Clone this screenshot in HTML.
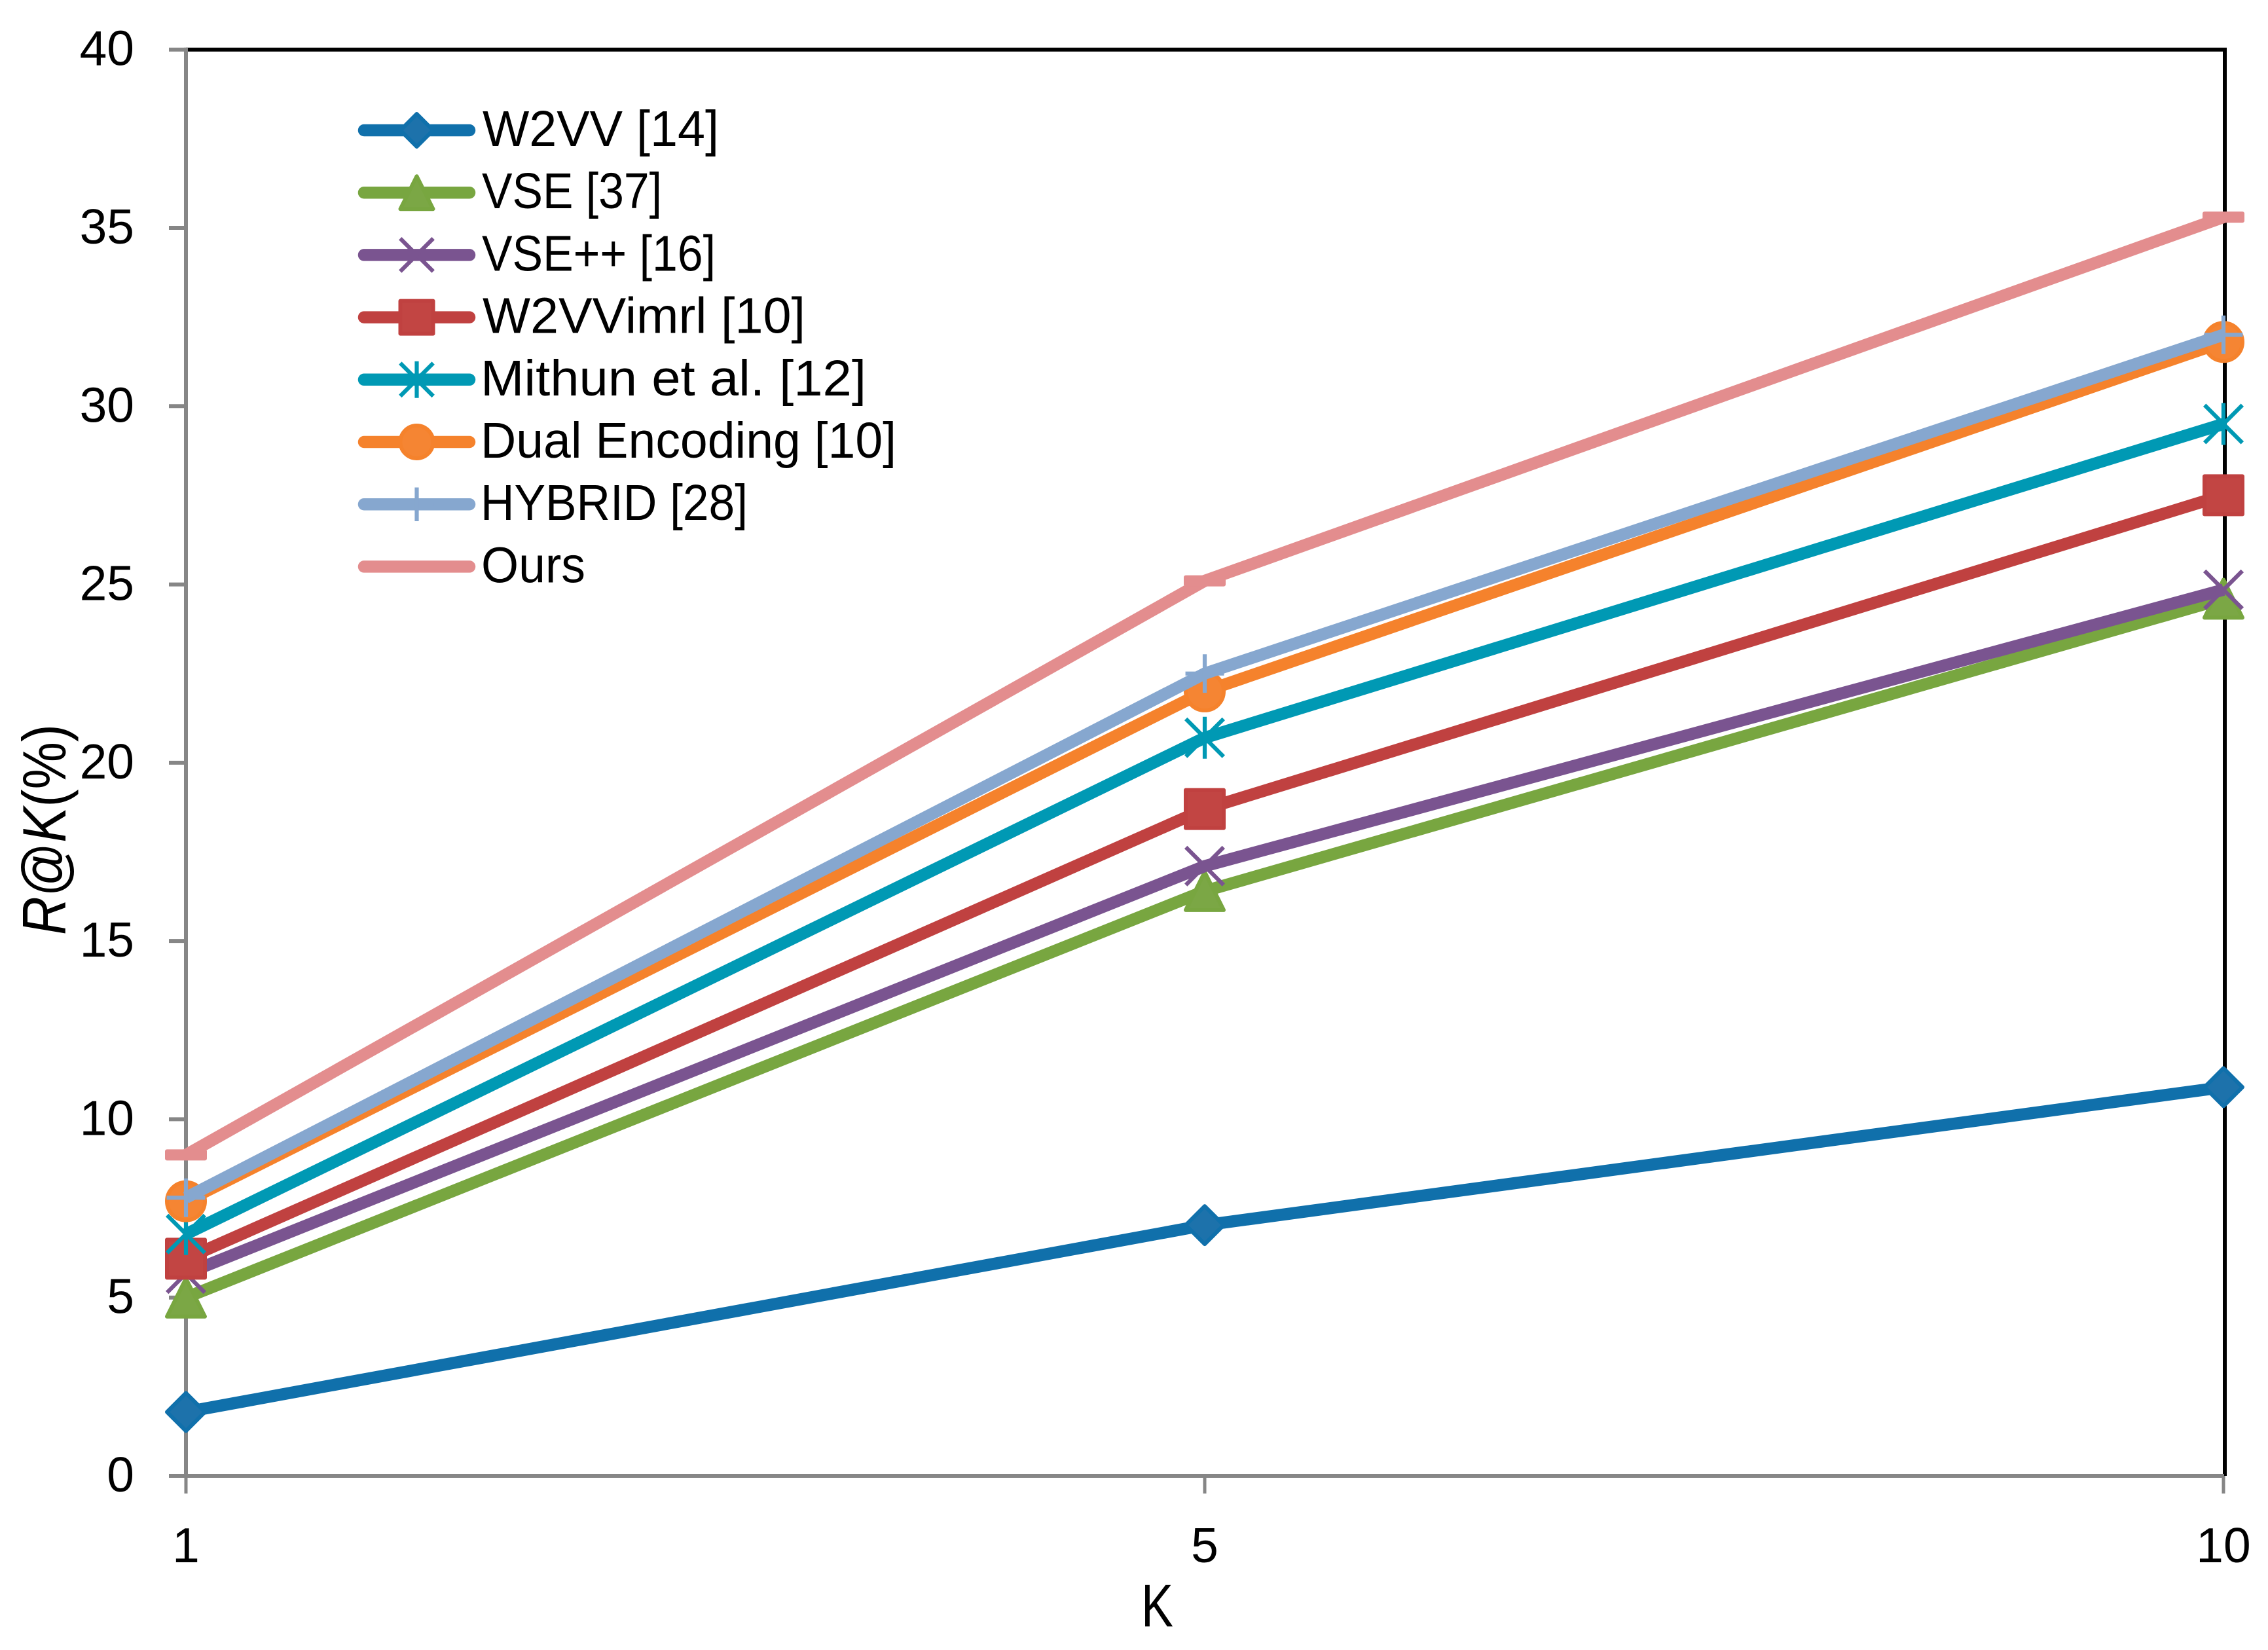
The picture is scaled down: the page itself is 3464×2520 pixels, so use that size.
<!DOCTYPE html>
<html lang="en">
<head>
<meta charset="utf-8">
<title>R@K chart</title>
<style>
html,body{margin:0;padding:0;background:#fff;width:3464px;height:2520px;overflow:hidden}
svg{display:block}
text{font-family:"Liberation Sans",sans-serif;fill:#000}
</style>
</head>
<body>
<svg id="chart" xmlns="http://www.w3.org/2000/svg" width="3464" height="2520" viewBox="0 0 3464 2520">
<rect x="0" y="0" width="3464" height="2520" fill="#fff"/>
<g id="frame"></g>
<g id="series"></g>
<g id="legend"></g>
<g id="labels"></g>
<text x="1743" y="2484" font-size="92" textLength="49" lengthAdjust="spacingAndGlyphs">K</text>
<text transform="translate(100,1428) rotate(-90)" font-size="94" textLength="322" lengthAdjust="spacingAndGlyphs"><tspan font-style="italic">R</tspan>@<tspan font-style="italic">K</tspan>(%)</text>
</svg>
<script>
const categories = ["1", "5", "10"];
const yTicks = [0, 5, 10, 15, 20, 25, 30, 35, 40];
const w2vvValues = [1.79, 7.03, 10.9];
const vseValues = [5.0, 16.4, 24.6];
const vsePlusValues = [5.67, 17.1, 24.85];
const w2vvimrlValues = [6.09, 18.7, 27.5];
const mithunValues = [6.78, 20.7, 29.5];
const dualValues = [7.7, 22.0, 31.8];
const hybridValues = [7.8, 22.5, 32.0];
const oursValues = [9.0, 25.1, 35.3];
const seriesNames = ["W2VV [14]", "VSE [37]", "VSE++ [16]", "W2VVimrl [10]", "Mithun et al. [12]", "Dual Encoding [10]", "HYBRID [28]", "Ours"];
const seriesValues = [w2vvValues, vseValues, vsePlusValues, w2vvimrlValues, mithunValues, dualValues, hybridValues, oursValues];
const seriesColors = ["#1070AB", "#78A640", "#7A5490", "#C04140", "#0099B4", "#F5822C", "#86A7CF", "#E38D8E"];
const markerFills = ["#1D72AB", "#7BA745", "#7A5490", "#C24543", "#0099B4", "#F58533", "#86A7CF", "#E38D8E"];
const seriesMarkers = ["diamond", "triangle", "cross", "square", "star", "circle", "plus", "dash"];
const legendWidths = [361, 275, 357, 493, 589, 635, 408, 159];
const legendStarts = [737, 736, 736, 737, 734, 734, 734, 735];

const NS = "http://www.w3.org/2000/svg";
const PLOT = {left: 284, right: 3396, top: 75.7, bottom: 2254};
const AXIS_GREY = "#868686";
const LINE_WIDTH = 18.5;

function xScale(i) {
  return PLOT.left + i * (PLOT.right - PLOT.left) / (categories.length - 1);
}
function yScale(v) {
  return PLOT.bottom - v * (PLOT.bottom - PLOT.top) / 40;
}
function make(tag, attrs, parent) {
  const el = document.createElementNS(NS, tag);
  for (const k in attrs) el.setAttribute(k, attrs[k]);
  parent.appendChild(el);
  return el;
}
function slug(s) {
  return s.toLowerCase().replace(/[^a-z0-9]+/g, "-").replace(/^-|-$/g, "");
}
function drawMarker(kind, cx, cy, r, color, fill, parent) {
  const g = make("g", {}, parent);
  const sw = 6;
  const inset = sw / 2;
  const solid = {fill: fill, stroke: color, "stroke-width": sw, "stroke-linejoin": "round"};
  const line = {stroke: color, "stroke-width": 6.2, fill: "none"};
  if (kind === "diamond") {
    const d = r - inset;
    make("polygon", Object.assign({points: `${cx},${cy - d} ${cx + d},${cy} ${cx},${cy + d} ${cx - d},${cy}`}, solid), g);
  } else if (kind === "triangle") {
    const d = r - inset;
    make("polygon", Object.assign({points: `${cx},${cy - d} ${cx + d},${cy + d} ${cx - d},${cy + d}`}, solid), g);
  } else if (kind === "square") {
    make("rect", Object.assign({x: cx - r + inset, y: cy - r + inset, width: 2 * r - sw, height: 2 * r - sw}, solid), g);
  } else if (kind === "circle") {
    make("circle", {cx: cx, cy: cy, r: r - inset, fill: fill, stroke: color, "stroke-width": sw}, g);
  } else if (kind === "cross" || kind === "star") {
    const a = r * 0.9;
    make("line", Object.assign({x1: cx - a, y1: cy - a, x2: cx + a, y2: cy + a}, line), g);
    make("line", Object.assign({x1: cx - a, y1: cy + a, x2: cx + a, y2: cy - a}, line), g);
    if (kind === "star") {
      make("line", Object.assign({x1: cx, y1: cy - r, x2: cx, y2: cy + r}, line), g);
    }
  } else if (kind === "plus") {
    const a = r * 0.92;
    make("line", Object.assign({x1: cx - a, y1: cy, x2: cx + a, y2: cy}, line), g);
    make("line", Object.assign({x1: cx, y1: cy - a, x2: cx, y2: cy + a}, line), g);
  } else if (kind === "dash") {
    make("rect", {x: cx - r, y: cy - 8.5, width: 2 * r, height: 17, rx: 3, fill: color}, g);
  }
  return g;
}

const frame = document.getElementById("frame");
const seriesLayer = document.getElementById("series");
const legendLayer = document.getElementById("legend");
const labelLayer = document.getElementById("labels");

/* plot frame */
const topBorder = make("line", {x1: PLOT.left, y1: PLOT.top, x2: PLOT.right + 5, y2: PLOT.top, stroke: "#000", "stroke-width": 6}, frame);


const rightBorder = make("line", {x1: PLOT.right + 2, y1: PLOT.top, x2: PLOT.right + 2, y2: PLOT.bottom, stroke: "#000", "stroke-width": 6}, frame);


const yAxisLine = make("line", {x1: PLOT.left, y1: PLOT.top - 3, x2: PLOT.left, y2: PLOT.bottom + 3, stroke: AXIS_GREY, "stroke-width": 6}, frame);


const xAxisLine = make("line", {x1: PLOT.left, y1: PLOT.bottom, x2: PLOT.right + 1, y2: PLOT.bottom, stroke: AXIS_GREY, "stroke-width": 6}, frame);



yTicks.forEach(function (t) {
  const tick = make("line", {x1: PLOT.left - 26, y1: yScale(t), x2: PLOT.left, y2: yScale(t), stroke: AXIS_GREY, "stroke-width": 6}, frame);
  
  
  const label = make("text", {x: 205, y: yScale(t) + 24, "font-size": 75, "text-anchor": "end"}, labelLayer);
  label.textContent = String(t);
  
  
});
categories.forEach(function (c, i) {
  const tick = make("line", {x1: xScale(i), y1: PLOT.bottom, x2: xScale(i), y2: PLOT.bottom + 27, stroke: AXIS_GREY, "stroke-width": 5}, frame);
  
  
  const label = make("text", {x: xScale(i), y: 2386, "font-size": 75, "text-anchor": "middle"}, labelLayer);
  label.textContent = c;
  
  
});

/* series */
seriesNames.forEach(function (name, s) {
  const g = make("g", {}, seriesLayer);
  
  
  const pts = seriesValues[s].map(function (v, i) { return xScale(i) + "," + yScale(v); }).join(" ");
  const path = make("polyline", {points: pts, fill: "none", stroke: seriesColors[s], "stroke-width": LINE_WIDTH, "stroke-linejoin": "miter"}, g);
  
  
  seriesValues[s].forEach(function (v, i) {
    const m = drawMarker(seriesMarkers[s], xScale(i), yScale(v), 32, seriesColors[s], markerFills[s], g);
    
    
  });
});

/* legend */
seriesNames.forEach(function (name, s) {
  const y = 199 + s * 95.2;
  const g = make("g", {}, legendLayer);
  
  
  const sw = make("line", {x1: 556, y1: y, x2: 717, y2: y, stroke: seriesColors[s], "stroke-width": LINE_WIDTH, "stroke-linecap": "round"}, g);
  
  
  const m = drawMarker(seriesMarkers[s], 636.5, y, 28, seriesColors[s], markerFills[s], g);
  
  
  const t = make("text", {x: legendStarts[s], y: y + 24, "font-size": 77, textLength: legendWidths[s], lengthAdjust: "spacingAndGlyphs"}, g);
  t.textContent = name;
  
  
});
</script>
</body>
</html>
